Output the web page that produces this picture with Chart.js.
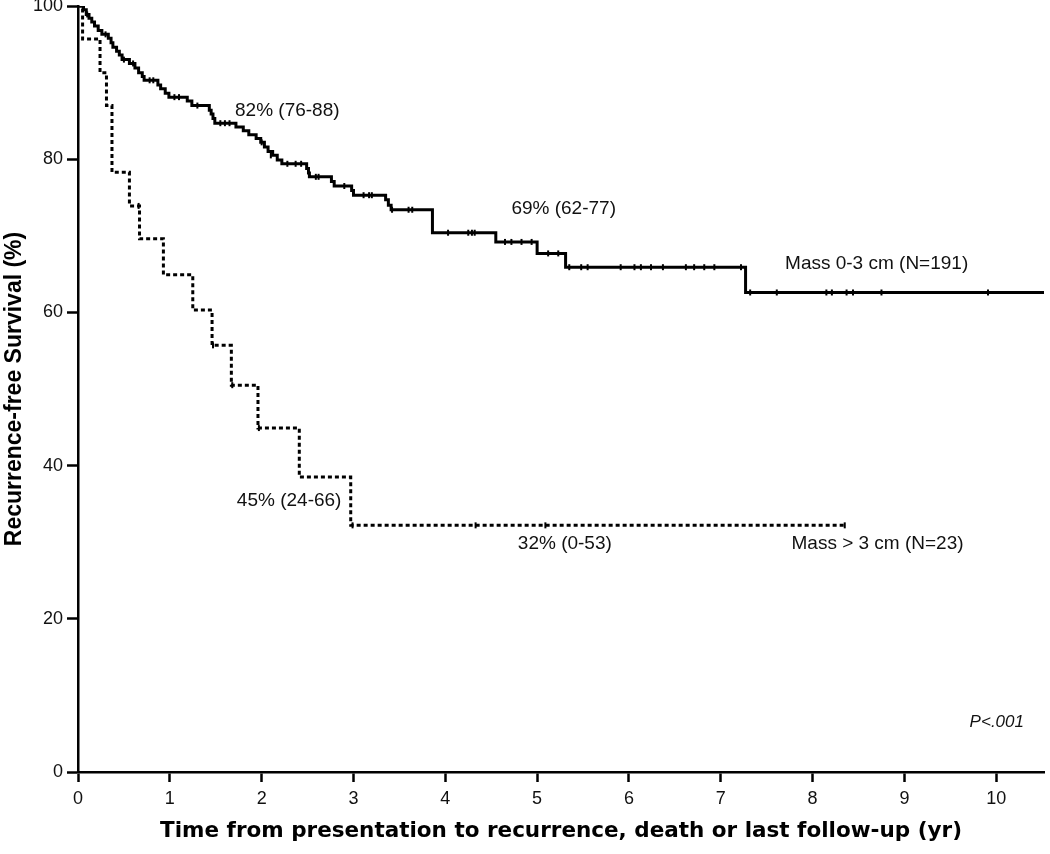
<!DOCTYPE html>
<html>
<head>
<meta charset="utf-8">
<script src="https://cdn.jsdelivr.net/npm/chart.js@4.4.1/dist/chart.umd.min.js"></script>
<style>
    html, body { margin: 0; padding: 0; background: #fff; }
    .wrap { width: 1050px; height: 854px; }
</style>
</head>
<body>
<div class="wrap"><canvas id="chart"></canvas></div>
<script>
// tick labels
const xTicks = [0, 1, 2, 3, 4, 5, 6, 7, 8, 9, 10];
const yTicks = [0, 20, 40, 60, 80, 100];

// Mass 0-3 cm (N=191): time of each step (yr) and survival after it (%)
const smallTime = [0, 0.06, 0.09, 0.12, 0.15, 0.18, 0.22, 0.26, 0.33, 0.36, 0.38, 0.42, 0.45, 0.48,
    0.56, 0.62, 0.66, 0.70, 0.72, 0.87, 0.90, 0.95, 0.99, 1.19, 1.24, 1.43, 1.45, 1.47, 1.49,
    1.72, 1.80, 1.86, 1.94, 1.99, 2.03, 2.07, 2.12, 2.17, 2.22, 2.49, 2.51, 2.52, 2.76, 2.79,
    2.98, 3.00, 3.35, 3.38, 3.41, 3.86, 4.55, 5.00, 5.31, 7.27, 10.52];
const smallSurv = [100, 99.5, 98.9, 98.4, 97.9, 97.4, 96.8, 96.3, 95.8, 95.2, 94.6, 94.1, 93.6, 93.0,
    92.5, 91.9, 91.3, 90.8, 90.3, 89.7, 89.2, 88.6, 88.1, 87.6, 87.0, 86.4, 85.9, 85.3, 84.7,
    84.2, 83.7, 83.2, 82.7, 82.2, 81.6, 81.0, 80.5, 79.9, 79.4, 78.8, 78.2, 77.7, 77.1, 76.5,
    75.9, 75.3, 74.7, 74.0, 73.4, 70.4, 69.2, 67.7, 65.9, 62.6, 62.6];

// censored patients, Mass 0-3 cm
const smallCensTime = [0.10, 0.30, 0.50, 0.60, 0.78, 0.82, 1.05, 1.10, 1.30, 1.55, 1.60, 1.65,
    2.00, 2.10, 2.28, 2.37, 2.43, 2.59, 2.62, 2.90, 3.11, 3.17, 3.20, 3.42, 3.60, 3.64,
    4.03, 4.25, 4.29, 4.32, 4.65, 4.72, 4.83, 4.94, 5.12, 5.23,
    5.35, 5.48, 5.55, 5.91, 6.06, 6.13, 6.24, 6.37, 6.62, 6.71, 6.82, 6.93, 7.22,
    7.32, 7.61, 8.15, 8.21, 8.37, 8.44, 8.75, 9.91];
const smallCensSurv = [98.9, 96.3, 93.0, 92.5, 90.3, 90.3, 88.1, 88.1, 87.0, 84.7, 84.7, 84.7,
    82.2, 80.5, 79.4, 79.4, 79.4, 77.7, 77.7, 76.5, 75.3, 75.3, 75.3, 73.4, 73.4, 73.4,
    70.4, 70.4, 70.4, 70.4, 69.2, 69.2, 69.2, 69.2, 67.7, 67.7,
    65.9, 65.9, 65.9, 65.9, 65.9, 65.9, 65.9, 65.9, 65.9, 65.9, 65.9, 65.9, 65.9,
    62.6, 62.6, 62.6, 62.6, 62.6, 62.6, 62.6, 62.6];

// Mass > 3 cm (N=23)
const largeTime = [0, 0.05, 0.24, 0.31, 0.37, 0.56, 0.67, 0.93, 1.25, 1.46, 1.67, 1.96, 2.41, 2.97, 8.35];
const largeSurv = [100, 95.7, 91.3, 87.0, 78.3, 73.9, 69.6, 64.9, 60.3, 55.7, 50.5, 44.9, 38.5, 32.2, 32.2];

const largeCensTime = [0.66, 1.47, 1.68, 1.97, 2.99, 4.33, 5.09, 8.35];
const largeCensSurv = [73.9, 55.7, 50.5, 44.9, 32.2, 32.2, 32.2, 32.2];

// text written on the plot, placed in data units
const notes = [
    { t: 1.71, s: 86.3, text: '82% (76-88)' },
    { t: 4.72, s: 73.5, text: '69% (62-77)' },
    { t: 7.70, s: 66.3, text: 'Mass 0-3 cm (N=191)' },
    { t: 1.73, s: 35.4, text: '45% (24-66)' },
    { t: 4.79, s: 29.8, text: '32% (0-53)' },
    { t: 7.77, s: 29.8, text: 'Mass > 3 cm (N=23)' }
];

const toPoints = (xs, ys) => xs.map((x, i) => ({ x: x, y: ys[i] }));

const notesPlugin = {
    id: 'notes',
    afterDatasetsDraw(chart) {
        const { ctx, scales: { x, y } } = chart;
        ctx.save();
        ctx.fillStyle = '#111';
        ctx.textBaseline = 'middle';
        ctx.textAlign = 'left';
        ctx.font = '19px "Liberation Sans", Arial, sans-serif';
        notes.forEach(n => {
            ctx.fillText(n.text, x.getPixelForValue(n.t), y.getPixelForValue(n.s));
        });
        ctx.font = 'italic 17px "Liberation Sans", Arial, sans-serif';
        ctx.fillText('P<.001', x.getPixelForValue(9.71), y.getPixelForValue(6.5));
        ctx.restore();
    }
};

const ctx = document.getElementById('chart').getContext('2d');
new Chart(ctx, {
    type: 'line',
    data: {
        datasets: [{
            label: 'Mass 0-3 cm',
            data: toPoints(smallTime, smallSurv),
            borderColor: '#000',
            borderWidth: 3,
            stepped: 'before',
            pointRadius: 0
        }, {
            label: 'Mass > 3 cm',
            data: toPoints(largeTime, largeSurv),
            borderColor: '#000',
            borderWidth: 3,
            borderDash: [4, 3],
            stepped: 'before',
            pointRadius: 0
        }, {
            label: 'censored 0-3',
            data: toPoints(smallCensTime, smallCensSurv),
            showLine: false,
            pointStyle: 'line',
            rotation: 90,
            pointRadius: 3,
            pointBorderWidth: 2,
            borderColor: '#000'
        }, {
            label: 'censored > 3',
            data: toPoints(largeCensTime, largeCensSurv),
            showLine: false,
            pointStyle: 'line',
            rotation: 90,
            pointRadius: 3,
            pointBorderWidth: 2,
            borderColor: '#000'
        }]
    },
    options: {
        responsive: true,
        maintainAspectRatio: false,
        animation: false,
        layout: { padding: { top: 5, right: 2, left: 0, bottom: 0 } },
        plugins: {
            legend: { display: false },
            tooltip: { enabled: false }
        },
        scales: {
            x: {
                type: 'linear',
                min: 0,
                max: 10.52,
                afterBuildTicks: scale => { scale.ticks = xTicks.map(v => ({ value: v })); },
                afterFit: scale => {
                    scale.height = 82;
                    scale.paddingLeft = 0;
                    scale.paddingRight = 0;
                },
                grid: { drawOnChartArea: false, tickLength: 10, tickWidth: 2.5, tickColor: '#000' },
                border: { color: '#000', width: 2.5 },
                ticks: {
                    color: '#111',
                    padding: 6,
                    maxRotation: 0,
                    font: { family: '"Liberation Sans", Arial, sans-serif', size: 18 }
                },
                title: {
                    display: true,
                    text: 'Time from presentation to recurrence, death or last follow-up (yr)',
                    color: '#000',
                    padding: { top: 0, bottom: 10 },
                    font: { family: '"DejaVu Sans", Verdana, sans-serif', size: 21.5, weight: 'bold' }
                }
            },
            y: {
                min: 0,
                max: 100,
                afterBuildTicks: scale => { scale.ticks = yTicks.map(v => ({ value: v })); },
                afterFit: scale => {
                    scale.width = 78;
                    scale.paddingTop = 0;
                    scale.paddingBottom = 0;
                },
                grid: { drawOnChartArea: false, tickLength: 11, tickWidth: 2.5, tickColor: '#000' },
                border: { color: '#000', width: 2.5 },
                ticks: {
                    color: '#111',
                    padding: 4,
                    font: { family: '"Liberation Sans", Arial, sans-serif', size: 18 }
                },
                title: {
                    display: true,
                    text: 'Recurrence-free Survival (%)',
                    color: '#000',
                    padding: { top: 1, bottom: 0 },
                    font: { family: '"Liberation Sans", Arial, sans-serif', size: 23, weight: 'bold' }
                }
            }
        }
    },
    plugins: [notesPlugin]
});
</script>
</body>
</html>
